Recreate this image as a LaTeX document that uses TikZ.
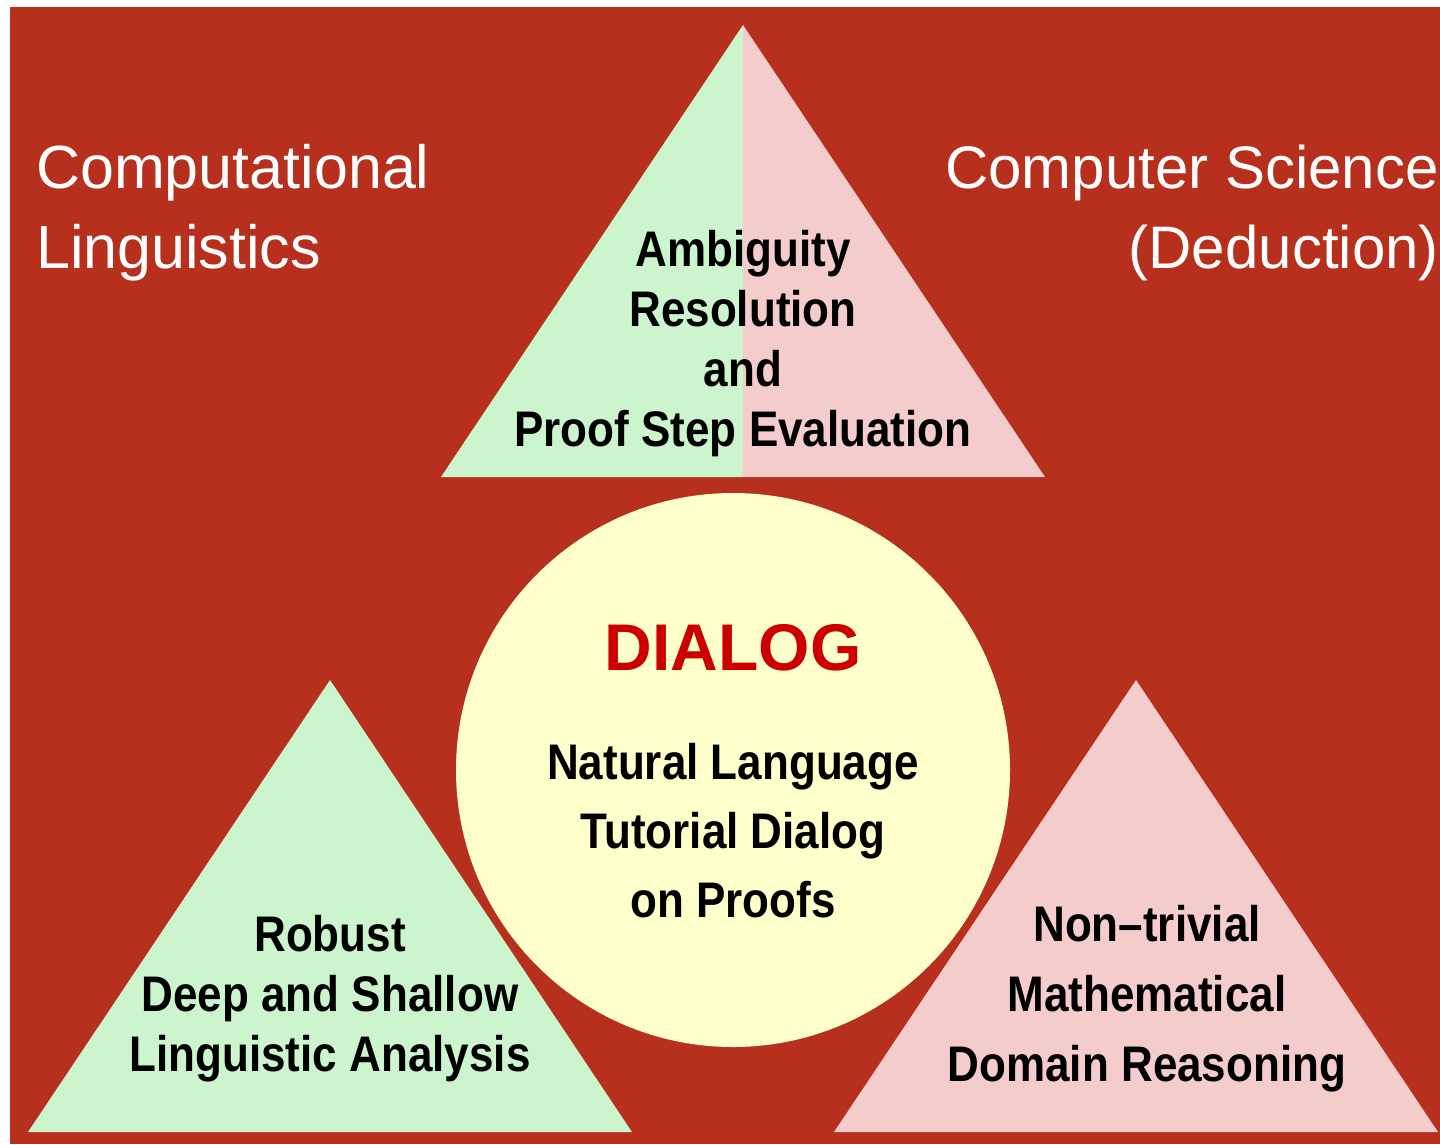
\documentclass[tikz,border=0pt]{standalone}
\usepackage{fontspec}
\setmainfont{Liberation Sans}
\newfontfamily\narrowfont[FakeStretch=0.88]{Liberation Sans}

\definecolor{bgred}{RGB}{183,47,29}
\definecolor{lightgreen}{RGB}{204,245,206}
\definecolor{lightpink}{RGB}{245,204,204}
\definecolor{paleyellow}{RGB}{255,255,204}
\definecolor{dialogred}{RGB}{204,0,0}

\tikzset{
    fieldtext/.style={font=\fontsize{#1}{80}\selectfont, text=white, inner sep=0pt},
    fieldtext/.default=61,
    boldtext/.style={font=\narrowfont\bfseries\fontsize{50}{#1}\selectfont, inner sep=0pt, align=center},
    boldtext/.default=60
}

\begin{document}
\begin{tikzpicture}[x=1pt,y=-1pt]
\useasboundingbox (0,0) rectangle (1440,1144);

% Background
\fill[bgred] (10,7) rectangle (1440,1144);

%%%%%%%%%%%%%%%%%%%% Triangles %%%%%%%%%%%%%%%%%%%%%%%%%%
% top triangle, split in two halves
\coordinate (topapex) at (743,25);
\fill[lightgreen] (topapex) -- ++(-302,452) -- ++(302,0) -- cycle;
\fill[lightpink] (topapex) -- ++(302,452) -- ++(-302,0) -- cycle;

% bottom triangles
\foreach \name/\ax/\col in {leftapex/330/lightgreen, rightapex/1136/lightpink}
{
    \coordinate (\name) at (\ax,680);
    \fill[\col] (\name) -- ++(-302,452) -- ++(604,0) -- cycle;
}

%%%%%%%%%%%%%%%%%%%% Circle %%%%%%%%%%%%%%%%%%%%%%%%%%
\node[circle, fill=paleyellow, minimum size=554pt, inner sep=0pt] (dialog) at (733,770) {};
\node[anchor=base, inner sep=0pt, text=dialogred, font=\bfseries\fontsize{66}{66}\selectfont] (title) at (733,670) {DIALOG};
\node[boldtext=69, anchor=north] (tutor) at (733,743) {Natural Language\\Tutorial Dialog\\on Proofs};

%%%%%%%%%%%%%%%%%%%% Labels %%%%%%%%%%%%%%%%%%%%%%%%%%
\node[boldtext, anchor=north] (ambig) at (743,230) {Ambiguity\\Resolution\\and\\Proof Step Evaluation};
\node[boldtext, anchor=north] (robust) at (330,915) {Robust\\Deep and Shallow\\Linguistic Analysis};
\node[boldtext=70, anchor=north] (nontriv) at (1147,905) {Non–trivial\\Mathematical\\Domain Reasoning};

\node[fieldtext, anchor=north west, align=left] (complin) at (36,144) {Computational\\Linguistics};
\node[fieldtext=60, anchor=north east, align=right] (compsci) at (1439,145) {Computer Science\\(Deduction)};

\end{tikzpicture}
\end{document}
